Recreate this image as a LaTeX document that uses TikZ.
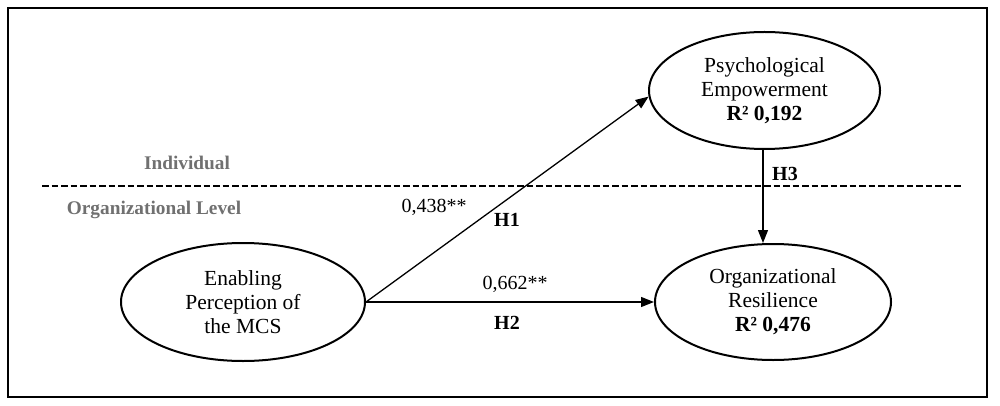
\documentclass[tikz,border=0pt]{standalone}
\usepackage{fontspec}
\setmainfont{Liberation Serif}
\usetikzlibrary{arrows.meta,shapes.geometric}
\definecolor{lvlgray}{HTML}{707070}
\tikzset{
  construct/.style={draw, ellipse, line width=2pt, inner sep=0pt, align=center,
    font=\fontsize{21.5}{24}\selectfont},
  relpath/.style={line width=1.3pt, -{Triangle[length=13pt,width=10pt]}},
  coef/.style={inner sep=0pt, font=\fontsize{20}{22}\selectfont},
  hyp/.style={inner sep=0pt, font=\fontsize{20}{22}\selectfont\bfseries},
  level/.style={inner sep=0pt, text=lvlgray, font=\fontsize{19.3}{22}\selectfont\bfseries},
}
\begin{document}
\begin{tikzpicture}[x=1pt,y=-1pt]
\useasboundingbox (0,0) rectangle (1000,406);
\draw[line width=2.5pt] (8,8) rectangle (987,397);
% level separator
\coordinate (dl) at (42,186);
\coordinate (dr) at (963,186);
\draw[line width=1.8pt, dash pattern=on 6.5pt off 3pt] (dl) -- (dr);
\node[level] (ind) at (187,163) {Individual};
\node[level] (org) at (154,210) {Organizational Level};
% constructs
\node[construct, minimum width=231pt, minimum height=117pt] (P) at (764.5,90.5)
  {Psychological\\Empowerment\\\textbf{R² 0,192}};
\node[construct, minimum width=236pt, minimum height=116pt] (R) at (773,302)
  {Organizational\\Resilience\\\textbf{R² 0,476}};
\node[construct, minimum width=244pt, minimum height=118pt] (E) at (243,302)
  {Enabling\\Perception of\\the MCS};
% paths
\draw[relpath] (E.east) -- (P.183);
\draw[relpath] (E.east) -- (R.west);
\draw[relpath] (P.south -| 763,0) -- (R.north -| 763,0);
% labels
\node[coef] (c1) at (434,207) {0,438**};
\node[hyp] (h1) at (507,220) {H1};
\node[coef] (c2) at (515,284) {0,662**};
\node[hyp] (h2) at (507,323) {H2};
\node[hyp] (h3) at (785,174) {H3};
\end{tikzpicture}
\end{document}
